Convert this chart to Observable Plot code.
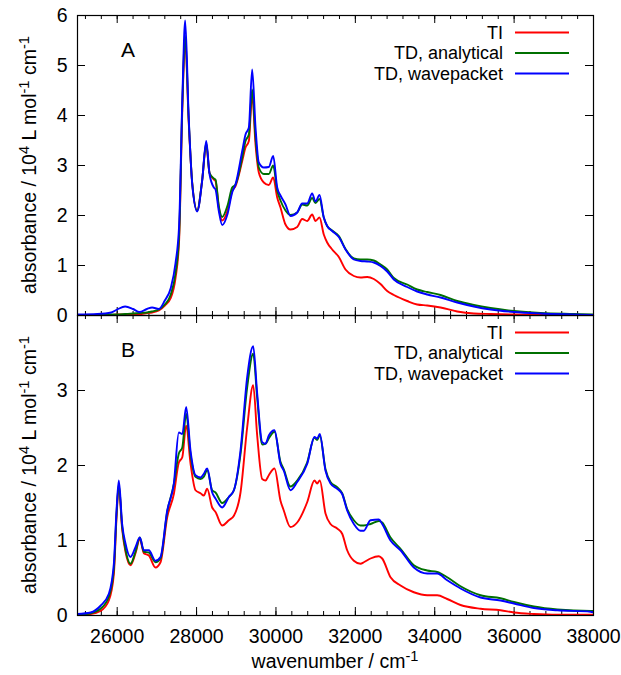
<!DOCTYPE html>
<html><head><meta charset="utf-8">
<script src="https://cdn.jsdelivr.net/npm/d3@7"></script>
<script src="https://cdn.jsdelivr.net/npm/@observablehq/plot@0.6"></script>
<style>
body{margin:0;background:#fff;}
#chart{position:relative;width:621px;height:675px;font-family:"Liberation Sans",Arial,sans-serif;}
#chart svg{position:absolute;left:0;top:0;}
</style></head><body><div id="chart"></div>
<script>
const seriesNames = ["TI", "TD, analytical", "TD, wavepacket"];
const seriesColors = ["#ff0000", "#007000", "#0000ff"];
const xDomain = [25000, 38000];
const xMajorTicks = [26000, 28000, 30000, 32000, 34000, 36000, 38000];
const xMinorTicks = d3.range(25200, 38000, 400);
const yTicksA = [0, 1, 2, 3, 4, 5, 6];
const yTicksB = [0, 1, 2, 3];

// Panel A
const wnA = [25000,25500,25850,26000,26200,26400,26560,26750,26880,27050,27200,27350,27470,27560,27640,27713,27800,27890,28015,28140,28243,28326,28435,28477,28560,28645,28780,28897,28981,29150,29233,29317,29400,29485,29568,29694,29820,29930,30031,30114,30240,30366,30535,30660,30786,30912,30996,31097,31205,31290,31416,31584,31752,31962,32130,32300,32465,32634,32802,32970,33306,33558,33810,34146,34566,34986,35406,35994,36666,37500,38000];
const tiA = [0.00,0.01,0.01,0.02,0.02,0.03,0.03,0.05,0.06,0.10,0.20,0.35,0.75,1.50,4.10,5.50,3.90,2.65,2.10,2.70,3.42,2.85,2.72,2.69,2.16,1.90,2.10,2.49,2.59,3.09,3.36,3.49,4.42,3.42,2.86,2.66,2.61,2.76,2.36,2.16,1.82,1.72,1.77,1.93,1.89,2.02,1.89,1.96,1.62,1.46,1.32,1.17,0.92,0.79,0.76,0.77,0.73,0.63,0.49,0.41,0.29,0.22,0.20,0.16,0.08,0.04,0.03,0.02,0.01,0.00,0.00];
const anA = [0.01,0.01,0.02,0.02,0.03,0.04,0.05,0.06,0.08,0.12,0.22,0.42,0.85,1.60,4.20,5.60,3.95,2.65,2.10,2.70,3.45,2.85,2.74,2.72,2.19,1.97,2.20,2.56,2.62,3.16,3.49,3.62,4.52,3.56,2.96,2.83,2.83,3.00,2.50,2.30,2.10,2.01,2.06,2.22,2.20,2.35,2.25,2.33,1.96,1.79,1.70,1.59,1.33,1.14,1.12,1.12,1.10,1.02,0.92,0.75,0.62,0.52,0.47,0.41,0.29,0.21,0.15,0.09,0.05,0.03,0.02];
const wpA = [0.02,0.03,0.06,0.12,0.18,0.13,0.07,0.13,0.16,0.13,0.30,0.55,1.05,1.80,4.30,5.90,4.00,2.63,2.08,2.69,3.49,2.83,2.56,2.52,2.09,1.81,2.03,2.46,2.62,3.29,3.62,3.76,4.92,3.76,3.06,2.96,2.97,3.19,2.56,2.40,2.22,1.99,2.06,2.24,2.24,2.44,2.28,2.41,1.96,1.79,1.69,1.57,1.32,1.12,1.09,1.08,1.06,0.99,0.88,0.72,0.57,0.48,0.42,0.36,0.26,0.18,0.12,0.07,0.04,0.02,0.01];

// Panel B
const wnB = [25000,25330,25580,25790,25916,25983,26041,26125,26209,26335,26461,26570,26671,26797,26965,27091,27260,27427,27553,27640,27738,27847,27973,28099,28183,28267,28393,28477,28645,28813,28940,29107,29275,29426,29527,29653,29737,29820,29963,30114,30197,30365,30535,30786,30970,31038,31104,31248,31374,31542,31668,31794,31962,32130,32214,32382,32592,32676,32886,33138,33474,33810,34062,34314,34650,35154,35658,35994,36498,37086,37925,38000];
const tiB = [0.01,0.02,0.06,0.20,0.55,1.30,1.72,1.15,0.85,0.67,0.83,1.02,0.83,0.80,0.64,0.71,1.31,1.62,2.04,2.11,2.53,2.03,1.67,1.63,1.60,1.69,1.44,1.38,1.20,1.27,1.33,1.64,2.51,3.07,2.40,1.82,1.80,1.87,1.96,1.53,1.40,1.18,1.24,1.51,1.80,1.76,1.80,1.36,1.22,1.16,1.09,0.87,0.73,0.69,0.71,0.76,0.79,0.76,0.51,0.40,0.31,0.27,0.27,0.22,0.14,0.09,0.07,0.04,0.02,0.01,0.01,0.01];
const anB = [0.01,0.03,0.09,0.25,0.62,1.35,1.75,1.18,0.88,0.69,0.85,1.04,0.85,0.84,0.71,0.76,1.38,1.75,2.16,2.24,2.69,2.15,1.85,1.82,1.85,1.94,1.67,1.64,1.50,1.58,1.67,2.15,3.04,3.49,2.90,2.28,2.29,2.36,2.45,2.05,1.95,1.72,1.80,2.04,2.37,2.34,2.40,1.95,1.78,1.71,1.63,1.42,1.27,1.20,1.20,1.22,1.26,1.24,1.04,0.89,0.67,0.60,0.58,0.51,0.39,0.27,0.23,0.18,0.12,0.08,0.06,0.06];
const wpB = [0.02,0.04,0.13,0.29,0.69,1.40,1.80,1.22,0.96,0.78,0.91,1.04,0.87,0.87,0.73,0.78,1.40,1.76,2.44,2.42,2.78,2.20,1.87,1.84,1.89,1.96,1.64,1.56,1.44,1.58,1.67,2.20,3.18,3.59,2.96,2.31,2.29,2.40,2.47,2.02,1.93,1.67,1.78,2.02,2.38,2.36,2.42,1.93,1.76,1.69,1.62,1.40,1.22,1.13,1.13,1.27,1.28,1.22,1.00,0.87,0.64,0.56,0.56,0.47,0.36,0.24,0.20,0.16,0.10,0.07,0.05,0.04];

const W = 621, H = 675, ML = 77, MR = 28;
const FONT = "Liberation Sans, Arial, sans-serif";
const FS = 19.5;
const LEG_FS = 18;

function tidy(wn, arrs) {
  const rows = [];
  arrs.forEach((a, i) => a.forEach((v, j) => rows.push({w: wn[j], v, s: seriesNames[i]})));
  return rows;
}

function panel(wn, arrs, yDomain, yTicks, top, bottom, showX) {
  const ph = H - top - bottom, pw = W - ML - MR;
  const marks = [
    Plot.ruleX(xMinorTicks, {x: d => d, insetTop: ph - 4, stroke: "#000", strokeWidth: 1}),
    Plot.ruleX(xMinorTicks, {x: d => d, insetBottom: ph - 4, stroke: "#000", strokeWidth: 1}),
    Plot.ruleX(xMajorTicks, {x: d => d, insetTop: ph - 8, stroke: "#000", strokeWidth: 1}),
    Plot.ruleX(xMajorTicks, {x: d => d, insetBottom: ph - 8, stroke: "#000", strokeWidth: 1}),
    Plot.ruleY(yTicks, {y: d => d, insetRight: pw - 8, stroke: "#000", strokeWidth: 1}),
    Plot.ruleY(yTicks, {y: d => d, insetLeft: pw - 8, stroke: "#000", strokeWidth: 1}),
    Plot.line(tidy(wn, arrs), {x: "w", y: "v", stroke: "s", curve: "monotone-x", strokeWidth: 1.9, clip: true}),
    Plot.frame({stroke: "#000", strokeWidth: 1.2}),
    Plot.text(yTicks, {y: d => d, frameAnchor: "left", dx: -10, textAnchor: "end", text: d => String(d), fontSize: FS, fill: "#000"})
  ];
  if (showX) marks.push(Plot.text(xMajorTicks, {x: d => d, frameAnchor: "bottom", dy: 21, lineAnchor: "middle", text: d => String(d), fontSize: FS, fill: "#000"}));
  return Plot.plot({
    width: W, height: H, marginLeft: ML, marginRight: MR, marginTop: top, marginBottom: bottom,
    x: {domain: xDomain, axis: null},
    y: {domain: yDomain, axis: null},
    color: {domain: seriesNames, range: seriesColors},
    style: {background: "transparent", fontFamily: FONT, overflow: "visible"},
    marks
  });
}

const chart = document.getElementById("chart");
chart.appendChild(panel(wnA, [tiA, anA, wpA], [0, 6], yTicksA, 15, 360, false));
chart.appendChild(panel(wnB, [tiB, anB, wpB], [0, 4], yTicksB, 315, 60, true));

// overlay: axis titles, panel letters, legends
const svg = d3.select(chart).append("svg").attr("width", W).attr("height", H)
  .style("font-family", FONT).style("pointer-events", "none");

function rich(sel, parts) {
  let raised = false;
  parts.forEach(([t, sup]) => {
    const ts = sel.append("tspan").text(t);
    if (sup) { ts.attr("font-size", FS * 0.75).attr("dy", -7); raised = true; }
    else { ts.attr("font-size", FS); if (raised) { ts.attr("dy", 7); raised = false; } }
  });
}
const yLabel = [["absorbance / 10", false], ["4", true], [" L mol", false], ["-1", true], [" cm", false], ["-1", true]];
[165, 465].forEach(cy => {
  const t = svg.append("text").attr("transform", `translate(36,${cy}) rotate(-90)`)
    .attr("text-anchor", "middle").attr("font-size", FS).attr("fill", "#000");
  rich(t, yLabel);
});
const xl = svg.append("text").attr("x", ML + (W - ML - MR) / 2).attr("y", 668)
  .attr("text-anchor", "middle").attr("font-size", FS).attr("fill", "#000");
rich(xl, [["wavenumber / cm", false], ["-1", true]]);

[["A", 50], ["B", 350]].forEach(([l, y]) => {
  svg.append("text").attr("x", 128).attr("y", y).attr("dy", "0.35em").attr("text-anchor", "middle")
    .attr("font-size", 21).attr("fill", "#000").text(l);
});

[32.5, 332.5].forEach(y0 => {
  seriesNames.forEach((n, i) => {
    const y = y0 + i * 20.5;
    svg.append("text").attr("x", 503).attr("y", y).attr("dy", "0.35em").attr("text-anchor", "end")
      .attr("font-size", LEG_FS).attr("fill", "#000").text(n);
    svg.append("line").attr("x1", 515).attr("x2", 569).attr("y1", y).attr("y2", y)
      .attr("stroke", seriesColors[i]).attr("stroke-width", 1.9);
  });
});
</script></body></html>
